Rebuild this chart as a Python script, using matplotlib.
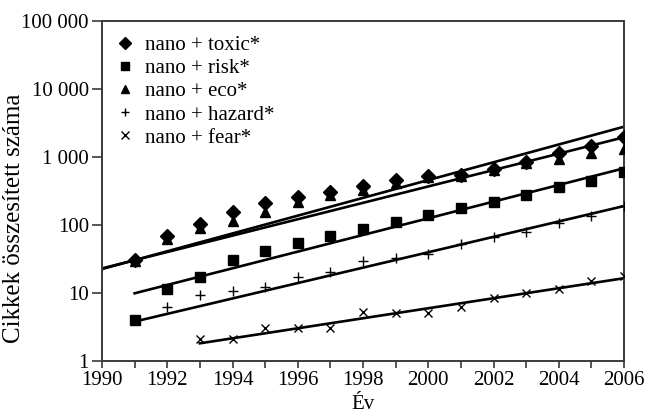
import numpy as np
import matplotlib.pyplot as plt
from matplotlib.ticker import FixedLocator, NullFormatter, NullLocator

plt.rcParams['font.family'] = ['Liberation Serif', 'DejaVu Serif']

years = list(range(1991, 2007))

toxic = [31, 70, 103, 154, 208, 261, 302, 370, 458, 520, 540, 659, 853, 1130, 1466, 1990]
eco = [30, 62, 89, 116, 157, 220, 276, 327, 410, 500, 520, 640, 820, 925, 1133, 1290]
risk = [4.0, 11.5, 17, 30.5, 41.5, 54, 70, 88, 112, 142, 176, 220, 273, 357, 440, 610]
hazard = [4.0, 6.2, 9.3, 10.7, 12.4, 17.4, 20.5, 29.5, 32.4, 38, 52, 66, 80, 106, 135, 190]
fear_years = list(range(1993, 2007))
fear = [2.1, 2.1, 3.1, 3.1, 3.1, 5.2, 5.1, 5.0, 6.3, 8.5, 10.1, 11.3, 15, 17.8]

# trend lines (start year, end year, value at start, value at end)
trend_toxic = (1990, 2006, 23, 1950)
trend_eco = (1990, 2006, 22.5, 2790)
trend_risk = (1991, 2006, 9.9, 682)
trend_hazard = (1991, 2006, 3.8, 190)
trend_fear = (1993, 2006, 1.82, 16.5)

ytick_vals = [1, 10, 100, 1000, 10000, 100000]
ytick_labels = ['1', '10', '100', '1 000', '10 000', '100 000']

fig = plt.figure(figsize=(6.46, 4.16), dpi=100)
ax = fig.add_axes([102 / 646, 1 - 361 / 416, 522 / 646, 340 / 416])

ax.plot(years, toxic, 'D', color='black', ms=7, label='nano + toxic*', zorder=3)
ax.plot(years, risk, 's', color='black', ms=6.5, label='nano + risk*', zorder=3)
ax.plot(years, eco, '^', color='black', ms=7, label='nano + eco*', zorder=3)
ax.plot(years, hazard, '+', color='black', ms=6.5, mew=1.0, label='nano + hazard*', zorder=3)
ax.plot(fear_years, fear, 'x', color='black', ms=6, mew=1.0, label='nano + fear*', zorder=3)

for t in [trend_toxic, trend_eco, trend_risk, trend_hazard, trend_fear]:
    ax.plot([t[0], t[1]], [t[2], t[3]], color='black', lw=1.9, zorder=2)

ax.set_yscale('log')
ax.set_xlim(1990, 2006)
ax.set_ylim(1, 100000)
ax.yaxis.set_major_locator(FixedLocator(ytick_vals))
ax.set_yticklabels(ytick_labels)
ax.yaxis.set_minor_locator(NullLocator())
ax.yaxis.set_minor_formatter(NullFormatter())
ax.set_xticks(range(1990, 2007, 2))
ax.set_xticks(range(1991, 2006, 2), minor=True)

for s in ax.spines.values():
    s.set_color('#3a3a3a')
    s.set_linewidth(1.4)
ax.tick_params(which='both', direction='out', width=1.2, color='#3a3a3a',
               labelsize=15, pad=2)
ax.tick_params(axis='y', length=7.5)
ax.tick_params(axis='x', which='both', length=5)

ax.set_xlabel('Év', fontsize=15, labelpad=4)
ax.set_ylabel('Cikkek összesített száma', fontsize=18)
ax.yaxis.set_label_coords(-0.148, 0.42)

ax.legend(loc='upper left', frameon=False, fontsize=15, handlelength=0.8,
          handletextpad=0.55, labelspacing=0.17, borderaxespad=0.3,
          markerscale=0.85)

fig.savefig('out.png', dpi=100)
